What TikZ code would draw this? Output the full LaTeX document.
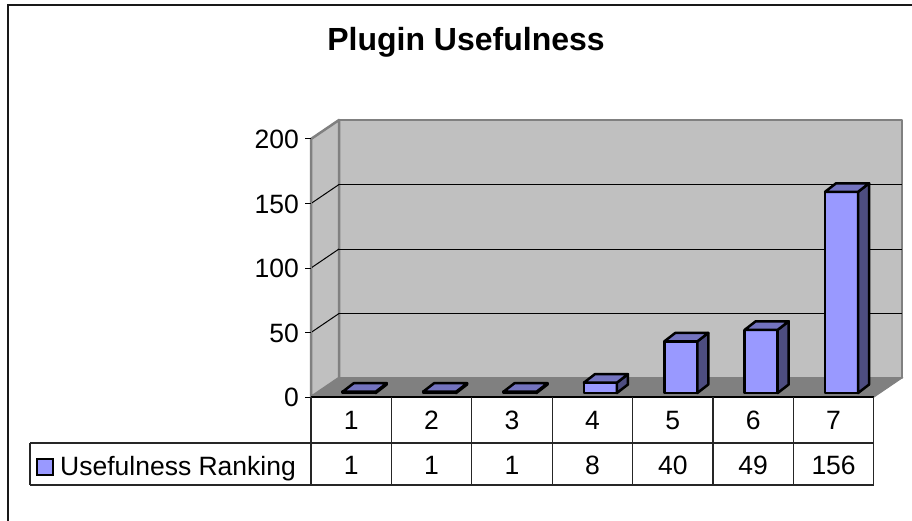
\documentclass[tikz,border=0pt]{standalone}
\usepackage{fontspec}
\setmainfont{Liberation Sans}
\usetikzlibrary{calc}

\definecolor{wallgray}{HTML}{C0C0C0}
\definecolor{floorgray}{HTML}{808080}
\definecolor{barfront}{HTML}{9999FF}
\definecolor{bartop}{HTML}{7373BF}
\definecolor{barside}{HTML}{4D4D80}

\begin{document}
\begin{tikzpicture}[x=1pt, y=-1pt,
    wall/.style={fill=wallgray, draw=floorgray, line width=2.5, line join=round},
    grid line/.style={black, line width=1},
    bar face/.style={draw=black, line width=2.5, line join=round},
    table line/.style={black!85, line width=1.2},
    label text/.style={inner sep=0, font=\fontsize{26.5}{31}\selectfont}]
    \useasboundingbox (0,0) rectangle (912,521);
    % frame
    \draw [black!90, line width=2] (8,521) -- (8,5) -- (912,5);
    \node (title) at (466,50.7) [anchor=base, inner sep=0, font=\fontsize{32}{37}\selectfont\bfseries] {Plugin Usefulness};
    % walls and floor
    \draw [wall] (339,120) rectangle (902,378);
    \draw [wall] (311,139) -- (339,120) -- (339,378) -- (311,397) -- cycle;
    \draw [fill=floorgray, draw=floorgray, line width=1] (311,397) -- (339,378) -- (902,378) -- (874,397) -- cycle;
    \foreach \v in {50,100,150} {
        \pgfmathsetmacro\yb{378-1.29*\v}
        \draw [grid line] (339,\yb) -- (902,\yb);
        \draw [grid line] (311,\yb+19) -- (339,\yb);
    }
    % value axis
    \draw [floorgray, line width=2.5] (311,139) -- (311,397);
    \foreach \v in {0,50,100,150,200} {
        \pgfmathsetmacro\yf{397-1.29*\v}
        \draw [black, line width=1] (305,\yf) -- (311,\yf);
        \node (axis\v) at (299,\yf+9.5) [label text, anchor=base east] {\v};
    }
    % bars
    \foreach \i/\v in {1/1,2/1,3/1,4/8,5/40,6/49,7/156} {
        \pgfmathsetmacro\xl{311+80.4*(\i-0.5)-8.5}
        \pgfmathsetmacro\xr{\xl+33}
        \pgfmathsetmacro\yt{393-1.29*\v}
        \draw [bar face, fill=barfront] (\xl,393) rectangle (\xr,\yt);
        \draw [bar face, fill=barside] (\xr,393) -- ++(11,-8.5) -- (\xr+11,\yt-8.5) -- (\xr,\yt) -- cycle;
        \draw [bar face, fill=bartop] (\xl,\yt) -- ++(11,-8.5) -- (\xr+11,\yt-8.5) -- (\xr,\yt) -- cycle;
    }
    \draw [black, line width=2.5] (311,397) -- (874,397);
    % data table
    \draw [table line] (30,443) -- (874,443);
    \draw [table line] (30,485) -- (874,485);
    \draw [table line] (30,443) -- (30,485);
    \foreach \k in {0,...,7} {
        \draw [table line] (311+80.4*\k,397) -- (311+80.4*\k,485);
    }
    \foreach \i/\v in {1/1,2/1,3/1,4/8,5/40,6/49,7/156} {
        \pgfmathsetmacro\cx{311+80.4*(\i-0.5)}
        \node (cat\i) at (\cx,429.3) [label text, anchor=base] {\i};
        \node (val\i) at (\cx,474.5) [label text, anchor=base] {\v};
    }
    % legend
    \draw [fill=barfront, draw=black, line width=1.5] (37,459) rectangle (53,475);
    \node (legend) at (60,475) [label text, anchor=base west] {Usefulness Ranking};
\end{tikzpicture}
\end{document}
